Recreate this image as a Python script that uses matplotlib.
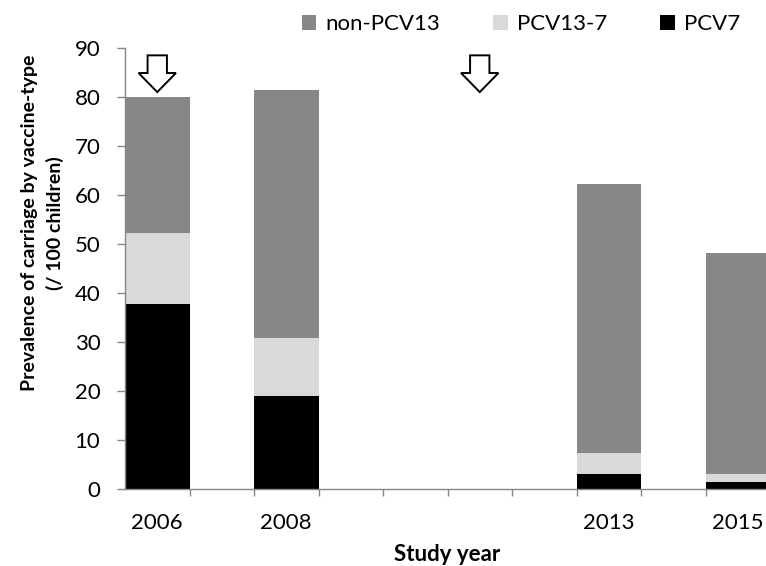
import matplotlib
matplotlib.use("Agg")
import matplotlib.pyplot as plt
from matplotlib.patches import FancyArrow
import numpy as np

years = ["2006", "2007", "2008", "2009", "2010", "2011", "2012", "2013", "2014", "2015"]
tick_labels = ["2006", "", "2008", "", "", "", "", "2013", "", "2015"]
pcv7 = [37.8, 0, 19.0, 0, 0, 0, 0, 3.0, 0, 1.4]
pcv13_7 = [14.4, 0, 11.8, 0, 0, 0, 0, 4.4, 0, 1.6]
non_pcv13 = [27.8, 0, 50.6, 0, 0, 0, 0, 54.8, 0, 45.2]
arrow_years = ["2006", "2011"]
arrow_tip = 81.0
arrow_top = 88.5

plt.rcParams['font.family'] = ['Lato', 'DejaVu Sans']

fig = plt.figure(figsize=(7.66, 5.66), dpi=100)
ax = fig.add_axes([125/766, 1-489/566, 645/766, (489-48)/566])

x = np.arange(len(years))
c_non = "#878787"
c_mid = "#d9d9d9"
c_blk = "#000000"
b1 = ax.bar(x, pcv7, width=1.0, color=c_blk, label="PCV7", linewidth=0)
b2 = ax.bar(x, pcv13_7, width=1.0, bottom=pcv7, color=c_mid, label="PCV13-7", linewidth=0)
bot3 = np.array(pcv7) + np.array(pcv13_7)
b3 = ax.bar(x, non_pcv13, width=1.0, bottom=bot3, color=c_non, label="non-PCV13", linewidth=0)

for yr in arrow_years:
    xi = years.index(yr)
    ax.add_patch(FancyArrow(xi, arrow_top, 0, -(arrow_top - arrow_tip), width=0.3,
                            head_width=0.58, head_length=3.9, length_includes_head=True,
                            facecolor="white", edgecolor="black", linewidth=1.4,
                            clip_on=False, zorder=5))

ax.set_xlim(-0.5, 9.5)
ax.set_ylim(0, 90)
ax.set_yticks(np.arange(0, 91, 10))
ax.set_xticks(x)
ax.set_xticklabels(tick_labels)
ax.set_xticks(np.arange(0.5, 9.6, 1.0), minor=True)
ax.tick_params(axis='x', which='major', length=0, pad=17, labelsize=16)
ax.tick_params(axis='x', which='minor', length=5, color="#868686", width=1)
ax.tick_params(axis='y', length=5.8, color="#868686", width=1, labelsize=16, pad=12)
for s in ["top", "right"]:
    ax.spines[s].set_visible(False)
for s in ["left", "bottom"]:
    ax.spines[s].set_color("#868686")
    ax.spines[s].set_linewidth(1)

ax.set_ylabel("Prevalence of carriage by vaccine-type\n(/ 100 children)", fontsize=14,
              fontweight="bold", linespacing=1.55)
ax.yaxis.set_label_coords((64 - 125) / 645, (489 - 223) / 441)
ax.set_xlabel("Study year", fontsize=16, fontweight="bold", va="top")
ax.xaxis.set_label_coords(0.5, -(544 - 489) / 441)

fig.legend([b3, b2, b1], ["non-PCV13", "PCV13-7", "PCV7"], loc="center",
           bbox_to_anchor=(521/766, 1-24/566), ncol=3, frameon=False, fontsize=16,
           handlelength=0.65, handleheight=0.65, handletextpad=0.4, columnspacing=2.4)

fig.savefig("out.png", dpi=100)
